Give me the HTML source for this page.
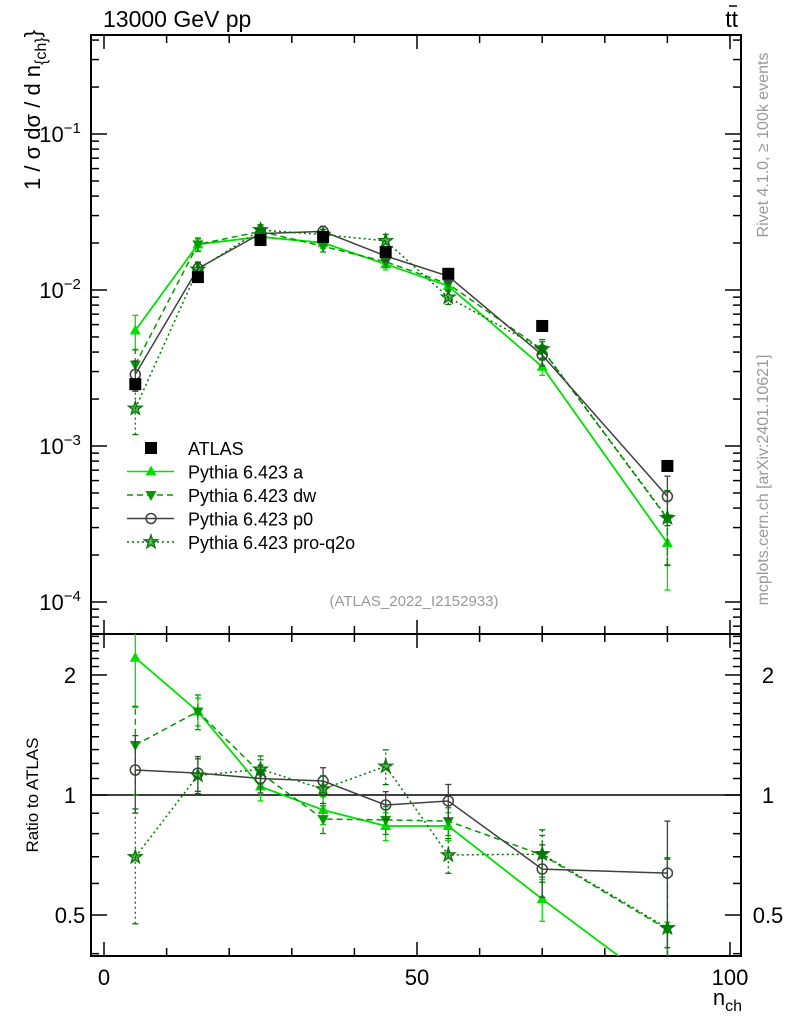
<!DOCTYPE html>
<html><head><meta charset="utf-8"><style>
html,body{margin:0;background:#fff;width:786px;height:1024px;overflow:hidden}
svg{font-family:"Liberation Sans",sans-serif;display:block}
</style></head><body>
<svg id="c" width="786" height="1024"></svg>
<script>
const xs=[5,15,25,35,45,55,70,90];
const atlas=[2.49e-3,1.21e-2,2.09e-2,2.19e-2,1.75e-2,1.27e-2,5.88e-3,7.45e-4];
const ratioA=[2.21,1.62,1.05,0.917,0.836,0.836,0.548,0.32];
const ratioDW=[1.335,1.62,1.135,0.87,0.866,0.86,0.707,0.46];
const ratioP0=[1.155,1.135,1.10,1.084,0.944,0.966,0.652,0.637];
const ratioQ2O=[0.699,1.12,1.16,1.035,1.18,0.707,0.711,0.464];
const errA=[0.25,0.08,0.08,0.08,0.08,0.08,0.12,0.5];
const errDW=[0.25,0.1,0.08,0.08,0.08,0.08,0.12,0.5];
const errP0=[0.22,0.1,0.08,0.08,0.08,0.1,0.15,0.35];
const errQ2O=[0.32,0.1,0.08,0.08,0.1,0.1,0.15,0.5];
const xTicks=[0,50,100];
const yMainTicks=[-1,-2,-3,-4];
const yRatioTicks=[0.5,1,2];

const NS="http://www.w3.org/2000/svg",svg=document.getElementById('c');
function el(t,a,p){const e=document.createElementNS(NS,t);for(const k in a)e.setAttribute(k,a[k]);(p||svg).appendChild(e);return e;}
const L=91,R=741,T1=35,B1=634,T2=634,B2=956;
const X=v=>104+v*6.26;
const Y1=v=>290-(Math.log10(v)+2)*156;
const Y2=v=>795-Math.log10(v)*398.7;

const defs=el('defs',{});
const c1=el('clipPath',{id:'c1'},defs);el('rect',{x:L,y:T1,width:R-L,height:B1-T1},c1);
const c2=el('clipPath',{id:'c2'},defs);el('rect',{x:L,y:T2,width:R-L,height:B2-T2},c2);

const f1=el('rect',{x:L,y:T1,width:R-L,height:B1-T1,fill:'none',stroke:'#000','stroke-width':2});

const f2=el('rect',{x:L,y:T2,width:R-L,height:B2-T2,fill:'none',stroke:'#000','stroke-width':2});


for(let v=0;v<=100;v+=10){const big=v%50==0;
 [[T1,1],[B1,-1],[T2,1],[B2,-1]].forEach(([y,d])=>el('line',{x1:X(v),x2:X(v),y1:y,y2:y+d*(big?14:8),stroke:'#000','stroke-width':1.5}));}
xTicks.forEach(v=>{const t=el('text',{x:X(v),y:985,'font-size':22,'text-anchor':'middle'});t.textContent=v;
 });
for(let e=-5;e<=0;e++)for(let m=1;m<10;m++){const v=m*Math.pow(10,e),y=Y1(v);if(y<T1||y>B1)continue;
 const len=m==1?16:8;el('line',{x1:L,x2:L+len,y1:y,y2:y,stroke:'#000','stroke-width':1.5});el('line',{x1:R,x2:R-len,y1:y,y2:y,stroke:'#000','stroke-width':1.5});}
yMainTicks.forEach(e=>{const t=el('text',{x:60,y:Y1(Math.pow(10,e))+8,'font-size':22,'text-anchor':'middle'});
 t.innerHTML='10<tspan dy="-9" font-size="15">−'+(-e)+'</tspan>';});
for(let k=4;k<=25;k++){const vv=k/10,y=Y2(vv);if(y<T2||y>B2)continue;
 const len=(vv==0.5||vv==1||vv==2)?16:8;el('line',{x1:L,x2:L+len,y1:y,y2:y,stroke:'#000','stroke-width':1.5});el('line',{x1:R,x2:R-len,y1:y,y2:y,stroke:'#000','stroke-width':1.5});}
yRatioTicks.forEach(v=>{[70,768].forEach(x=>{const t=el('text',{x:x,y:Y2(v)+8,'font-size':22,'text-anchor':'middle'});t.textContent=v;
 });});
el('line',{x1:L,x2:R,y1:Y2(1),y2:Y2(1),stroke:'#000','stroke-width':1.5});

function marker(kind,x,y,col,g){
 if(kind=='tri')el('polygon',{points:`${x},${y-6} ${x-5.5},${y+4} ${x+5.5},${y+4}`,fill:col},g);
 else if(kind=='itri')el('polygon',{points:`${x},${y+6} ${x-5.5},${y-4} ${x+5.5},${y-4}`,fill:col},g);
 else if(kind=='circ')el('circle',{cx:x,cy:y,r:5,fill:'none',stroke:col,'stroke-width':1.5},g);
 else if(kind=='star'){let p=[];for(let i=0;i<10;i++){const r=i%2?2.8:7,a=-Math.PI/2+i*Math.PI/5;p.push((x+r*Math.cos(a)).toFixed(1)+','+(y+r*Math.sin(a)).toFixed(1));}
  el('polygon',{points:p.join(' '),fill:col,'fill-opacity':0.6,stroke:col,'stroke-width':1.3},g);}
 else if(kind=='sq')el('rect',{x:x-6,y:y-6,width:12,height:12,fill:col},g);
}
const series=[
 {n:'pythia-a',r:ratioA,e:errA,c:'#00e000',d:'',m:'tri',w:1.8},
 {n:'pythia-dw',r:ratioDW,e:errDW,c:'#009900',d:'6,4',m:'itri',w:1.5},
 {n:'pythia-p0',r:ratioP0,e:errP0,c:'#404040',d:'',m:'circ',w:1.5},
 {n:'pythia-pro-q2o',r:ratioQ2O,e:errQ2O,c:'#007700',d:'2,3',m:'star',w:1.5}];
series.forEach(s=>{
 [['main',Y1,'c1',i=>atlas[i]*s.r[i]],['ratio',Y2,'c2',i=>s.r[i]]].forEach(([pn,Y,cl,val])=>{
  const g=el('g',{'clip-path':`url(#${cl})`});
  const pts=xs.map((x,i)=>X(x).toFixed(1)+','+Y(val(i)).toFixed(1)).join(' ');
  el('polyline',{points:pts,fill:'none',stroke:s.c,'stroke-width':s.w,'stroke-dasharray':s.d},g);
  xs.forEach((x,i)=>{const v=val(i),lo=Y(Math.max(v*(1-s.e[i]),1e-6)),hi=Y(v*(1+s.e[i]));
   el('line',{x1:X(x),x2:X(x),y1:lo,y2:hi,stroke:s.c,'stroke-width':1.3,'stroke-dasharray':s.d},g);
   el('line',{x1:X(x)-3,x2:X(x)+3,y1:lo,y2:lo,stroke:s.c,'stroke-width':1.3},g);el('line',{x1:X(x)-3,x2:X(x)+3,y1:hi,y2:hi,stroke:s.c,'stroke-width':1.3},g);
   marker(s.m,X(x),Y(v),s.c,g);});
 });
});
const ga=el('g',{'clip-path':'url(#c1)'});
xs.forEach((x,i)=>marker('sq',X(x),Y1(atlas[i]),'#000',ga));

const leg=[['sq','#000','','ATLAS'],['tri','#00e000','','Pythia 6.423 a'],['itri','#009900','6,4','Pythia 6.423 dw'],['circ','#404040','','Pythia 6.423 p0'],['star','#007700','2,3','Pythia 6.423 pro-q2o']];
leg.forEach((l,i)=>{const y=448+i*23.5;const g=el('g',{});
 if(i>0)el('line',{x1:127,x2:174,y1:y,y2:y,stroke:l[1],'stroke-width':1.5,'stroke-dasharray':l[2]},g);
 marker(l[0],151,y,l[1],g);const t=el('text',{x:188,y:y+7,'font-size':18},g);t.textContent=l[3];});

function txt(s,a,name){const t=el('text',a);t.innerHTML=s;return t;}
txt('13000 GeV pp',{x:103,y:27,'font-size':23},'title');
txt('tt',{x:738,y:27,'font-size':23,'text-anchor':'end'},'process-label');
el('line',{x1:729,x2:737,y1:6,y2:6,stroke:'#000','stroke-width':1.5});
txt('1 / σ dσ / d n<tspan dy="6" font-size="16">{ch}</tspan><tspan dy="-6">}</tspan>',{x:0,y:0,'font-size':22,transform:'translate(40,30) rotate(-90)','text-anchor':'end'},'y-axis-title');
txt('(ATLAS_2022_I2152933)',{x:414,y:606,'font-size':15,fill:'#999','text-anchor':'middle'},'analysis-id');
txt('Ratio to ATLAS',{x:0,y:0,'font-size':17,transform:'translate(38,795) rotate(-90)','text-anchor':'middle'},'ratio-axis-title');
txt('n<tspan dy="6" font-size="16">ch</tspan>',{x:742,y:1005,'font-size':22,'text-anchor':'end'},'x-axis-title');
txt('Rivet 4.1.0, ≥ 100k events',{x:0,y:0,'font-size':16,fill:'#999',transform:'translate(768,145) rotate(-90)','text-anchor':'middle'},'rivet-label');
txt('mcplots.cern.ch [arXiv:2401.10621]',{x:0,y:0,'font-size':16,fill:'#999',transform:'translate(768,480) rotate(-90)','text-anchor':'middle'},'mcplots-label');
</script>
</body></html>
